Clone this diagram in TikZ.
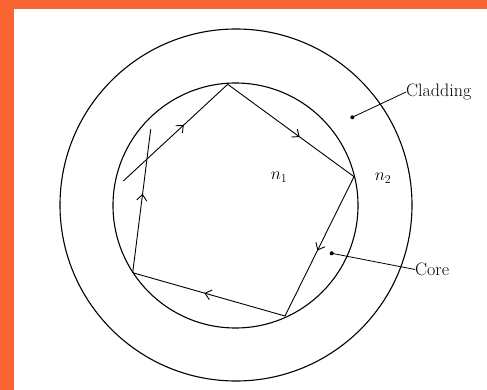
\documentclass[tikz,border=0pt]{standalone}
\usetikzlibrary{arrows.meta,decorations.markings}
\definecolor{frame}{RGB}{250,101,51}
\tikzset{
  outline/.style={line width=1.1pt, draw=black},
  ray/.style={line width=0.9pt, draw=black},
  midarrow/.style={postaction={decorate},
    decoration={markings, mark=at position #1 with {\arrow{Straight Barb[length=6pt,width=10pt,line width=0.9pt]}}}},
  midarrow/.default=0.55,
  leader/.style={line width=0.8pt, draw=black},
  lbl/.style={font=\fontsize{18}{21}\selectfont, inner sep=0pt},
  dotmark/.style={fill=black}
}
\begin{document}
\begin{tikzpicture}[x=1pt,y=-1pt]
\useasboundingbox (0,0) rectangle (487,390);
\fill[frame] (0,0) rectangle (487,390);
\fill[white] (14,9) rectangle (487,390);
% circles
\draw[outline] (236,205) circle[radius=176pt];
\draw[outline] (235.5,205.5) circle[radius=122.5pt];
% ray path points
\coordinate (S) at (123.3,181);
\coordinate (T) at (227.7,84.3);
\coordinate (R) at (354,176.7);
\coordinate (BR) at (285,316);
\coordinate (BL) at (132.7,272.7);
\coordinate (L) at (150.7,129.3);
\draw[ray, midarrow=0.58] (S) -- (T);
\draw[ray, midarrow=0.57] (T) -- (R);
\draw[ray, midarrow=0.53] (R) -- (BR);
\draw[ray, midarrow=0.53] (BR) -- (BL);
\draw[ray, midarrow=0.55] (BL) -- (L);
% refractive index labels
\node[lbl] (n1) at (279,177) {$n_1$};
\node[lbl] (n2) at (383,178) {$n_2$};
% leader labels
\node[lbl, anchor=west] (clad) at (406,92) {Cladding};
\node[lbl, anchor=west] (core) at (415,269.5) {Core};
\coordinate (cdot) at (352.3,117.3);
\coordinate (kdot) at (331.7,253.3);
\fill[dotmark] (cdot) circle[radius=2pt];
\fill[dotmark] (kdot) circle[radius=2pt];
\draw[leader] (cdot) -- (clad.west);
\draw[leader] (kdot) -- (core.west);
\end{tikzpicture}
\end{document}
